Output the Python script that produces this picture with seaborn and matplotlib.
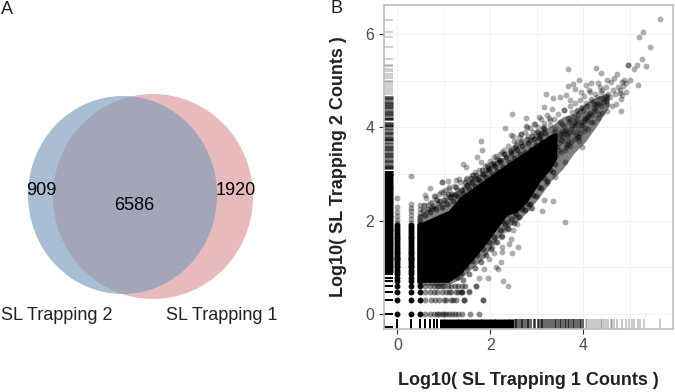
import pandas as pd
import seaborn as sns
import matplotlib.pyplot as plt
from matplotlib.patches import Ellipse

# Venn counts and labels
venn_counts = ["909", "6586", "1920"]
venn_names = ["SL Trapping 2", "SL Trapping 1"]

# discrete count levels (log10 of small integers)
levels = [0, 0.30, 0.48, 0.60, 0.70, 0.78, 0.85, 0.90, 0.95, 1.00, 1.04, 1.08, 1.11, 1.15,
          1.18, 1.20, 1.23, 1.26, 1.30, 1.34, 1.38, 1.42, 1.46, 1.50, 1.54, 1.58, 1.62,
          1.66, 1.70, 1.74, 1.78, 1.82, 1.86, 1.90]
col_x = [0, 0.30, 0.48]
col_top_x = [0, 0, 0, 0, 0, 0, 0.30, 0.30, 0.30, 0.30, 0.30, 0.30, 0.30, 0.48, 0.48, 0.48, 0.48, 0.48, 0.48]
col_top_y = [1.95, 2.02, 2.1, 2.18, 2.3, 2.49, 1.95, 2.03, 2.12, 2.2, 2.27, 2.35, 2.96, 1.95, 2.02, 2.1, 2.17, 2.26, 2.34]

# rows along the bottom of the cloud
row_0 = [0.60, 0.70, 0.78, 0.85, 0.90, 0.95, 1.00, 1.04, 1.11, 1.18, 1.23, 1.30, 1.38, 1.57, 1.75]
row_1 = [0.60, 0.72, 0.81, 0.90, 1.00, 1.04, 1.15, 1.20, 1.26, 1.43, 1.44, 1.84]
row_2 = [0.60, 0.70, 0.78, 0.85, 0.95, 1.04, 1.11, 1.15, 1.26, 1.30, 1.36, 1.39, 1.53]
row_3 = [0.60, 0.70, 0.78, 0.85, 0.90, 0.95, 1.00, 1.08, 1.15, 1.23, 1.30, 1.38, 1.46, 1.68]

# solid part of the cloud: x, lower and upper edge
core_x = [0.42, 1.10, 1.35, 1.70, 1.86, 2.36, 2.57, 2.79, 2.86, 3.07, 3.29, 3.43]
core_low = [0.68, 0.68, 0.85, 1.25, 1.45, 2.12, 2.18, 2.40, 2.51, 2.84, 3.10, 3.33]
core_high = [1.92, 2.22, 2.51, 2.76, 2.87, 3.22, 3.36, 3.50, 3.56, 3.70, 3.84, 3.88]

# dense but not solid zone around it
halo_x = [0.42, 0.70, 0.90, 1.15, 1.35, 1.60, 1.86, 2.10, 2.36, 2.60, 2.80, 3.05, 3.30, 3.55, 3.80, 4.05, 4.30, 4.55]
halo_low = [0.62, 0.62, 0.62, 0.66, 0.74, 0.98, 1.20, 1.55, 1.85, 2.00, 2.20, 2.50, 2.85, 3.10, 3.45, 3.70, 4.05, 4.45]
halo_high = [2.10, 2.28, 2.36, 2.58, 2.68, 2.92, 3.05, 3.28, 3.40, 3.64, 3.72, 3.92, 4.02, 4.22, 4.30, 4.52, 4.66, 4.74]

# points along the upper edge of the cloud
edge_up_x = [0.55, 0.60, 0.66, 0.71, 0.77, 0.83, 0.88, 0.95, 1.01, 1.06, 1.13, 1.19, 1.24, 1.31, 1.37, 1.42, 1.49,
             1.54, 1.61, 1.67, 1.73, 1.78, 1.85, 1.91, 1.97, 2.03, 2.09, 2.15, 2.21, 2.27, 2.33, 2.39, 2.45, 2.51,
             2.57, 2.63, 2.69, 2.75, 2.81, 2.87, 2.93, 2.99, 3.05, 3.11, 3.17, 0.58, 0.74, 0.91, 1.09, 1.27, 1.45,
             1.58, 1.70, 1.82, 1.94, 2.06, 2.18, 2.30, 2.42, 2.54, 2.66, 2.78, 2.90, 3.02, 3.14, 3.26, 3.38]
edge_up_y = [2.22, 2.12, 2.26, 2.18, 2.31, 2.24, 2.38, 2.30, 2.44, 2.36, 2.50, 2.42, 2.56, 2.52, 2.66, 2.60, 2.76,
             2.68, 2.82, 2.74, 2.90, 2.84, 3.00, 2.94, 3.10, 3.00, 3.18, 3.06, 3.26, 3.16, 3.36, 3.26, 3.44, 3.34,
             3.52, 3.42, 3.60, 3.48, 3.66, 3.54, 3.74, 3.62, 3.80, 3.68, 3.88, 2.34, 2.28, 2.42, 2.58, 2.72, 2.82,
             2.92, 2.98, 3.08, 3.14, 3.24, 3.30, 3.42, 3.50, 3.58, 3.68, 3.74, 3.82, 3.90, 3.98, 3.78, 3.84]

# outer fringe above the cloud
fringe_x = [0.62, 0.69, 0.80, 0.86, 0.98, 1.03, 1.11, 1.16, 1.22, 1.29, 1.35, 1.43, 1.47, 1.56, 1.63, 1.68, 1.75, 1.83,
            1.88, 1.95, 2.00, 2.07, 2.13, 2.20, 2.25, 2.32, 2.37, 2.44, 2.50, 2.56, 2.62, 2.68, 2.74, 2.80, 2.86, 2.92,
            2.97, 3.03, 3.09, 3.15, 3.21, 3.27]
fringe_y = [2.48, 2.38, 2.52, 2.44, 2.62, 2.52, 2.68, 2.58, 2.74, 2.66, 2.82, 2.72, 2.90, 2.80, 2.98, 2.90, 3.08, 3.00,
            3.18, 3.08, 3.28, 3.20, 3.38, 3.30, 3.48, 3.42, 3.60, 3.52, 3.70, 3.62, 3.80, 3.72, 3.90, 3.82, 3.98, 3.90,
            4.08, 4.00, 4.18, 4.10, 4.26, 4.20]

# points along the lower edge of the cloud
edge_low_x = [1.28, 1.36, 1.42, 1.48, 1.55, 1.60, 1.66, 1.72, 1.79, 1.84, 1.90, 1.96, 2.02, 2.08, 2.14, 2.20, 2.26,
              2.32, 2.38, 2.44, 2.50, 2.56, 2.62, 2.68, 2.74, 2.80, 2.86, 2.92, 2.98, 3.04, 3.10, 3.16, 3.22, 3.28,
              3.34, 3.40, 1.40, 1.52, 1.64, 1.76, 1.88, 2.00, 2.12, 2.24, 2.36, 2.48, 2.60, 2.72, 2.84, 2.96, 3.08, 3.20]
edge_low_y = [0.80, 0.88, 0.72, 1.00, 0.86, 1.14, 0.98, 1.26, 1.12, 1.40, 1.26, 1.54, 1.40, 1.66, 1.54, 1.80, 1.68,
              1.92, 1.82, 2.04, 1.96, 2.14, 2.08, 2.26, 2.22, 2.36, 2.36, 2.56, 2.52, 2.72, 2.70, 2.92, 2.86, 3.08,
              3.04, 3.22, 1.02, 1.20, 1.34, 1.48, 1.62, 1.76, 1.90, 2.00, 2.14, 2.26, 2.38, 2.48, 2.64, 2.78, 2.96, 3.12]

# single points read from the upper end and the edges
pts_x = [5.66, 5.29, 5.20, 5.43, 5.26, 4.97, 4.97, 5.15, 5.10, 5.35, 3.68, 4.28, 4.37, 3.91, 4.82, 5.18, 4.83, 4.72, 4.52,
         5.01, 4.92, 4.85, 4.80, 4.65, 2.47, 2.77, 2.31, 1.79, 1.81, 1.71, 1.41, 1.48, 1.80, 1.93, 2.45, 2.66, 2.77,
         1.32, 1.08, 0.95, 1.25, 3.11, 3.16, 3.34, 2.87, 3.22, 3.38, 3.60, 2.29, 2.48, 2.07,
         3.77, 3.67, 4.06, 4.16, 4.31, 3.19, 3.35, 3.49, 3.63, 3.72, 3.15, 3.33, 3.94, 3.83, 4.15, 4.40, 3.04, 2.79,
         2.65, 2.49, 2.93, 3.29, 3.58, 3.58, 3.86, 3.97, 4.22, 4.37, 4.51, 3.54, 3.72, 3.15, 3.36, 3.08, 2.86, 2.57,
         3.90, 3.68, 3.97, 1.84, 2.38, 2.27, 1.94, 1.76, 2.17, 2.12, 2.22, 2.47, 2.59, 2.26, 2.26, 2.40, 2.45, 2.49,
         2.57, 2.37, 2.90, 2.54, 2.07, 1.98, 1.86, 1.68, 1.53, 1.39, 2.04, 1.89, 2.22, 2.36, 2.29, 2.11, 2.68, 3.60,
         0.71, 0.96, 0.60, 0.78, 0.89, 0.65, 0.74, 0.83, 0.93, 1.02, 1.12, 1.18, 1.50, 1.60, 1.66, 1.90, 2.02, 2.14, 2.20]
pts_y = [6.31, 6.05, 5.94, 5.73, 5.46, 5.33, 5.33, 5.33, 5.25, 5.31, 5.24, 5.27, 5.16, 5.01, 4.36, 4.91, 4.69, 5.14, 5.01,
         5.01, 4.94, 4.89, 4.73, 5.05, 4.28, 4.21, 3.99, 3.71, 3.51, 3.37, 3.21, 3.14, 3.26, 3.19, 3.84, 3.86, 4.03,
         2.89, 2.85, 2.82, 2.87, 2.20, 2.44, 2.43, 2.28, 2.80, 2.94, 3.25, 3.51, 3.55, 3.37,
         4.93, 4.88, 4.90, 4.95, 4.94, 4.71, 4.62, 4.65, 4.69, 4.58, 4.43, 4.40, 4.76, 4.83, 4.76, 4.80, 4.23, 4.01,
         3.85, 3.81, 4.08, 4.15, 4.37, 4.37, 4.37, 4.43, 4.51, 4.62, 4.51, 4.08, 4.15, 4.01, 3.90, 3.83, 3.73, 3.69,
         3.80, 3.65, 3.58, 0.30, 0.60, 0.70, 0.78, 0.78, 0.96, 1.01, 1.12, 1.30, 1.43, 1.34, 1.44, 1.49, 1.60, 1.81,
         1.93, 1.84, 2.28, 2.09, 1.30, 1.17, 0.96, 0.60, 0.50, 0.48, 1.44, 1.55, 1.66, 1.98, 1.80, 1.55, 2.30, 1.97,
         2.71, 2.82, 2.55, 2.53, 2.57, 2.34, 2.41, 2.46, 2.62, 2.66, 2.72, 2.58, 2.92, 2.98, 3.05, 3.08, 3.22, 3.33, 3.42]

# the busy band at the top of the cloud
band_x = [3.02, 3.05, 2.98, 3.11, 3.14, 3.09, 3.21, 3.18, 3.24, 3.16, 3.31, 3.27, 3.35, 3.29, 3.33, 3.42, 3.38, 3.45, 3.40,
          3.36, 3.52, 3.48, 3.55, 3.50, 3.46, 3.53, 3.61, 3.57, 3.64, 3.59, 3.66, 3.62, 3.71, 3.68, 3.74, 3.69, 3.76, 3.72, 3.66,
          3.81, 3.78, 3.84, 3.79, 3.86, 3.82, 3.91, 3.88, 3.94, 3.89, 3.96, 3.92, 4.01, 3.98, 4.04, 3.99, 4.06, 4.02, 4.11,
          4.08, 4.14, 4.09, 4.16, 4.12, 4.21, 4.18, 4.24, 4.19, 4.26, 4.31, 4.28, 4.34, 4.29, 4.36, 4.41, 4.38, 4.44, 4.39,
          4.51, 4.48, 4.54, 4.49, 4.61, 4.58, 4.64, 4.59, 4.71, 4.68, 4.74, 4.81, 4.78, 4.84, 4.91, 4.88, 3.24, 3.47, 3.73,
          3.93, 4.03, 4.17, 4.33, 3.12, 3.30, 3.44, 3.56, 3.70, 3.85, 3.96, 4.07, 4.23, 4.42, 3.58, 3.61, 3.83, 3.86, 3.62,
          3.64, 3.87, 3.89, 3.76, 3.79, 3.52, 3.49, 4.10, 4.13, 4.01, 4.04, 3.38, 3.35, 3.17, 3.20, 4.27, 4.30, 4.46, 4.52]
band_y = [3.54, 3.78, 3.91, 3.42, 3.62, 3.88, 3.31, 3.57, 3.72, 3.97, 3.36, 3.53, 3.81, 4.06, 3.66, 3.41, 3.61, 3.77, 3.96,
          4.18, 3.47, 3.67, 3.92, 4.12, 4.28, 3.72, 3.52, 3.71, 3.86, 4.02, 4.21, 3.94, 3.61, 3.82, 3.97, 4.11, 4.33, 4.46, 3.70,
          3.76, 3.91, 4.07, 4.22, 4.36, 4.53, 3.71, 3.96, 4.12, 4.26, 4.41, 4.59, 3.92, 4.06, 4.21, 4.36, 4.52, 4.68, 3.97,
          4.16, 4.31, 4.46, 4.61, 4.79, 4.11, 4.26, 4.41, 4.56, 4.71, 4.21, 4.37, 4.51, 4.66, 4.86, 4.31, 4.46, 4.61, 4.76,
          4.36, 4.56, 4.71, 4.86, 4.46, 4.66, 4.81, 4.96, 4.51, 4.71, 4.86, 4.61, 4.81, 4.96, 4.76, 5.01, 3.46, 3.52, 3.68,
          3.87, 3.99, 4.12, 4.28, 3.70, 3.44, 3.58, 3.80, 3.90, 3.85, 4.05, 4.22, 4.35, 4.55, 3.88, 3.93, 4.12, 4.16, 3.58,
          3.62, 3.78, 3.82, 4.02, 4.06, 3.84, 3.88, 4.24, 4.28, 4.14, 4.18, 3.77, 3.73, 3.66, 3.60, 4.48, 4.53, 4.68, 4.63]

# marginal rugs
rug_x_ticks = [0, 0.30, 0.48, 0.60, 0.70, 0.78, 0.85, -0.28]
rug_x_solid = [0.95, 1.05, 1.15, 1.25, 1.35, 1.45, 1.55, 1.65, 1.75, 1.85, 1.95, 2.05, 2.15, 2.25, 2.35, 2.45]
rug_x_mid = [2.52, 2.55, 2.58, 2.62, 2.65, 2.68, 2.71, 2.75, 2.78, 2.81, 2.84, 2.88, 2.93, 2.97, 3.02, 3.05, 3.08, 3.11,
             3.14, 3.18, 3.21, 3.26, 3.31, 3.34, 3.38, 3.41, 3.46, 3.49, 3.52, 3.56, 3.60, 3.63, 3.67, 3.70, 3.74, 3.78,
             3.81, 3.85, 3.88, 3.92, 3.96, 3.99]
rug_x_faint = [4.05, 4.09, 4.12, 4.17, 4.2, 4.26, 4.3, 4.34, 4.37, 4.41, 4.45, 4.48, 4.54, 4.59, 4.62, 4.67, 4.72,
               4.84, 4.92, 4.98, 5.05, 5.1, 5.18, 5.22, 5.3, 5.66]
rug_y_ticks = [0, 0.30, 0.48, 0.60, 0.70, 0.78, 0.85, -0.28]
rug_y_solid = [0.95, 1.05, 1.15, 1.25, 1.35, 1.45, 1.55, 1.65, 1.75, 1.85, 1.95, 2.05, 2.15, 2.25, 2.35, 2.45, 2.55, 2.65,
               2.75, 2.85, 2.95, 3.03]
rug_y_mid = [3.12, 3.15, 3.2, 3.26, 3.3, 3.36, 3.4, 3.45, 3.52, 3.55, 3.6, 3.66, 3.72, 3.75, 3.8, 3.86, 3.9, 3.96, 4.02,
             4.05, 4.1, 4.17, 4.2, 4.26, 4.3, 4.36, 4.42, 4.45, 4.5, 4.55, 4.6, 4.66]
rug_y_faint = [4.72, 4.76, 4.8, 4.84, 4.88, 4.92, 4.96, 5.0, 5.05, 5.1, 5.15, 5.2, 5.25, 5.31, 5.33, 5.46, 5.73, 5.93, 6.04, 6.3]

sns.set_theme(style="white")
plt.rcParams['font.family'] = ['Liberation Sans', 'DejaVu Sans']

fig = plt.figure(figsize=(6.75, 3.92), dpi=100)

# panel A, drawn in pixel units of the figure
ax_a = fig.add_axes([0, 0, 1, 1])
ax_a.set_xlim(0, 675)
ax_a.set_ylim(392, 0)
ax_a.axis('off')
blue_shape = Ellipse((122.5, 195), 189, 198, fc='#A9BED3', ec='none')
pink_shape = Ellipse((153, 196.5), 200, 205, fc='#E9BABC', ec='none')
ax_a.add_patch(pink_shape)
ax_a.add_patch(blue_shape)
overlap = Ellipse((153, 196.5), 200, 205, fc='#A3A5B9', ec='none')
ax_a.add_patch(overlap)
overlap.set_clip_path(blue_shape)
ax_a.text(41, 190, venn_counts[0], fontsize=13, ha='center', va='center', color='black')
ax_a.text(134, 205, venn_counts[1], fontsize=13, ha='center', va='center', color='black')
ax_a.text(235.5, 190, venn_counts[2], fontsize=13, ha='center', va='center', color='black')
ax_a.text(1, 316, venn_names[0], fontsize=13, ha='left', va='center', color='#222222')
ax_a.text(166, 316, venn_names[1], fontsize=13, ha='left', va='center', color='#222222')
ax_a.text(0.5, 9, "A", fontsize=13, ha='left', va='center', color='#222222')
ax_a.text(331, 8, "B", fontsize=13, ha='left', va='center', color='#222222')

# panel B
ax = fig.add_axes([383.5 / 675, (392 - 329) / 392, 289.5 / 675, 324 / 392])
ax.set_xlim(-0.30, 5.93)
ax.set_ylim(-0.32, 6.62)

# columns at low x and rows at low y
col_df = pd.DataFrame([(x, y) for x in col_x for y in levels], columns=['x', 'y'])
row_df = pd.DataFrame({
    'x': row_0 + row_1 + row_2 + row_3,
    'y': [0.0] * len(row_0) + [0.30] * len(row_1) + [0.48] * len(row_2) + [0.60] * len(row_3),
})
top_df = pd.DataFrame({'x': col_top_x, 'y': col_top_y})
pts_df = pd.DataFrame({'x': pts_x + band_x + fringe_x, 'y': pts_y + band_y + fringe_y})
edge_df = pd.DataFrame({'x': edge_up_x + edge_low_x, 'y': edge_up_y + edge_low_y})

ax.fill_between(halo_x, halo_low, halo_high, color='black', alpha=0.5, lw=0, zorder=2)
ax.fill_between(core_x, core_low, core_high, color='black', lw=0, zorder=2)
sns.scatterplot(data=col_df, x='x', y='y', color='black', s=18, alpha=0.95, linewidth=0, ax=ax, zorder=3)
sns.scatterplot(data=row_df, x='x', y='y', color='black', s=18, alpha=0.45, linewidth=0, ax=ax, zorder=3)
sns.scatterplot(data=top_df, x='x', y='y', color='black', s=18, alpha=0.35, linewidth=0, ax=ax, zorder=3)
sns.scatterplot(data=edge_df, x='x', y='y', color='black', s=18, alpha=0.5, linewidth=0, ax=ax, zorder=3)
sns.scatterplot(data=pts_df, x='x', y='y', color='black', s=18, alpha=0.32, linewidth=0, ax=ax, zorder=3)

# rugs
sns.rugplot(x=rug_x_ticks, height=0.03, color='black', linewidth=1.4, alpha=1, ax=ax)
sns.rugplot(x=rug_x_solid, height=0.03, color='black', linewidth=3.6, alpha=1, ax=ax)
sns.rugplot(x=rug_x_mid, height=0.03, color='black', linewidth=1.4, alpha=0.6, ax=ax)
sns.rugplot(x=rug_x_faint, height=0.03, color='black', linewidth=1.2, alpha=0.25, ax=ax)
sns.rugplot(y=rug_y_ticks, height=0.034, color='black', linewidth=1.4, alpha=1, ax=ax)
sns.rugplot(y=rug_y_solid, height=0.034, color='black', linewidth=3.6, alpha=1, ax=ax)
sns.rugplot(y=rug_y_mid, height=0.034, color='black', linewidth=1.8, alpha=0.7, ax=ax)
sns.rugplot(y=rug_y_faint, height=0.034, color='black', linewidth=1.2, alpha=0.22, ax=ax)

ax.set_xticks([0, 2, 4])
ax.set_yticks([0, 2, 4, 6])
ax.set_xticks([1, 3, 5], minor=True)
ax.set_yticks([1, 3, 5], minor=True)
ax.grid(True, which='both', color='#F2F2F2', lw=0.8)
ax.set_axisbelow(True)
ax.tick_params(axis='both', which='major', length=3.5, width=0.8, color='#333333', labelcolor='#4D4D4D',
               labelsize=11.5, pad=3, bottom=True, left=True)
ax.tick_params(axis='both', which='minor', length=0)
for side in ax.spines.values():
    side.set_color('#BEBEBE')
    side.set_linewidth(1.2)
ax.set_xlabel("Log10( SL Trapping 1 Counts )", fontsize=13, fontweight='bold', color='#222222', labelpad=14)
ax.set_ylabel("Log10( SL Trapping 2 Counts )", fontsize=13, fontweight='bold', color='#222222', labelpad=13)

plt.savefig("out.png", dpi=100)
